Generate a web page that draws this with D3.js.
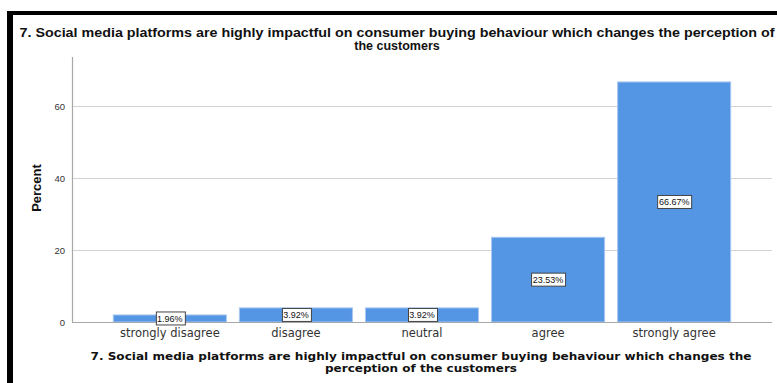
<!DOCTYPE html>
<html>
<head>
<meta charset="utf-8">
<script src="https://cdn.jsdelivr.net/npm/d3@7"></script>
<style>
  html, body { margin: 0; padding: 0; background: #fff; }
  svg { display: block; }
</style>
</head>
<body>
<svg id="chart" width="777" height="383"></svg>
<script>
// Response categories and their percentages
const categories = ["strongly disagree", "disagree", "neutral", "agree", "strongly agree"];
const percents = [1.96, 3.92, 3.92, 23.53, 66.67];
const valueLabels = ["1.96%", "3.92%", "3.92%", "23.53%", "66.67%"];
const yTicks = [0, 20, 40, 60];
const titleLines = [
  "7. Social media platforms are highly impactful on consumer buying behaviour which changes the perception of",
  "the customers"
];
const xTitleLines = [
  "7. Social media platforms are highly impactful on consumer buying behaviour which changes the",
  "perception of the customers"
];
const yTitle = "Percent";

const svg = d3.select("#chart");
const W = 777, H = 383;

// Frame: thick black edges on top and left
svg.append("rect").attr("x", 0).attr("y", 0).attr("width", W).attr("height", H).attr("fill", "#fff");
svg.append("rect").attr("x", 7).attr("y", 11).attr("width", W - 7).attr("height", 4).attr("fill", "#000");
svg.append("rect").attr("x", 7).attr("y", 11).attr("width", 6).attr("height", H - 11).attr("fill", "#000");

// Scales
const plotLeft = 72, plotRight = 772, plotBottom = 322, plotTop = 57;
const x = d3.scaleBand().domain(categories).range([107, 737]).paddingInner(0.103).paddingOuter(0.05);
const y = d3.scaleLinear().domain([0, 73.6]).range([plotBottom, plotTop]);

// Gridlines
svg.append("g")
  .selectAll("line")
  .data(yTicks.filter(t => t > 0))
  .join("line")
  .attr("x1", plotLeft).attr("x2", plotRight)
  .attr("y1", d => Math.round(y(d)) + 0.5).attr("y2", d => Math.round(y(d)) + 0.5)
  .attr("stroke", "#d4d4d4").attr("stroke-width", 1);

// Bars
svg.append("g")
  .selectAll("rect")
  .data(percents)
  .join("rect")
  .attr("x", (d, i) => x(categories[i]))
  .attr("width", x.bandwidth())
  .attr("y", d => y(d))
  .attr("height", d => plotBottom - y(d))
  .attr("fill", "#5596e4")
  .attr("stroke", "#a9c8f0")
  .attr("stroke-width", 1);

// Y axis
const yAxis = d3.axisLeft(y).tickValues(yTicks).tickSize(0).tickPadding(7);
const gy = svg.append("g").attr("transform", `translate(${plotLeft},0)`).call(yAxis);
gy.select(".domain").remove();
gy.selectAll("text")
  .attr("font-family", "Liberation Sans, Arial, sans-serif")
  .attr("font-size", 9.5).attr("fill", "#333");
svg.append("line")
  .attr("x1", plotLeft + 0.5).attr("x2", plotLeft + 0.5)
  .attr("y1", plotTop).attr("y2", plotBottom)
  .attr("stroke", "#a8a8a8").attr("stroke-width", 1.2);

// X axis
const xAxis = d3.axisBottom(x).tickSize(0).tickPadding(7);
const gx = svg.append("g").attr("transform", `translate(0,${plotBottom})`).call(xAxis);
gx.select(".domain").remove();
gx.selectAll("text")
  .attr("font-family", "DejaVu Sans, Verdana, sans-serif")
  .attr("font-size", 11.5).attr("fill", "#333");
svg.append("line")
  .attr("x1", plotLeft).attr("x2", plotRight)
  .attr("y1", plotBottom + 0.5).attr("y2", plotBottom + 0.5)
  .attr("stroke", "#a8a8a8").attr("stroke-width", 1.2);

// Value labels in boxes at the middle of each bar
const lbl = svg.append("g").selectAll("g")
  .data(percents)
  .join("g")
  .attr("transform", (d, i) => `translate(${x(categories[i]) + x.bandwidth() / 2},${y(d / 2)})`);
lbl.each(function(d, i) {
  const g = d3.select(this);
  const t = g.append("text")
    .attr("text-anchor", "middle").attr("dy", "0.35em")
    .attr("font-family", "Liberation Sans, Arial, sans-serif")
    .attr("font-size", 9).attr("fill", "#111")
    .text(valueLabels[i]);
  const bb = t.node().getBBox();
  g.insert("rect", "text")
    .attr("x", Math.round(bb.x - 1.5) + 0.5).attr("y", -6.5)
    .attr("width", Math.round(bb.width + 3)).attr("height", 13)
    .attr("fill", "#fff").attr("stroke", "#444").attr("stroke-width", 1);
});

// Chart title
const titleWidths = [755, null];
svg.append("g").selectAll("text")
  .data(titleLines)
  .join("text")
  .attr("x", 397).attr("y", (d, i) => 37 + i * 12.5)
  .attr("text-anchor", "middle")
  .attr("font-family", "Liberation Sans, Arial, sans-serif")
  .attr("font-weight", "bold").attr("font-size", 12.5).attr("fill", "#111")
  .each(function(d, i) {
    if (titleWidths[i]) d3.select(this).attr("textLength", titleWidths[i]).attr("lengthAdjust", "spacingAndGlyphs");
  })
  .text(d => d);

// X axis title
const xTitleWidths = [661, 192];
svg.append("g").selectAll("text")
  .data(xTitleLines)
  .join("text")
  .attr("x", 421).attr("y", (d, i) => 359.5 + i * 12.5)
  .attr("text-anchor", "middle")
  .attr("font-family", "DejaVu Sans, Verdana, sans-serif")
  .attr("font-weight", "bold").attr("font-size", 10.6).attr("fill", "#111")
  .attr("textLength", (d, i) => xTitleWidths[i])
  .attr("lengthAdjust", "spacingAndGlyphs")
  .text(d => d);

// Y axis title
svg.append("text")
  .attr("transform", "translate(41,188) rotate(-90)")
  .attr("text-anchor", "middle")
  .attr("font-family", "Liberation Sans, Arial, sans-serif")
  .attr("font-weight", "bold").attr("font-size", 13).attr("fill", "#111")
  .text(yTitle);
</script>
</body>
</html>
